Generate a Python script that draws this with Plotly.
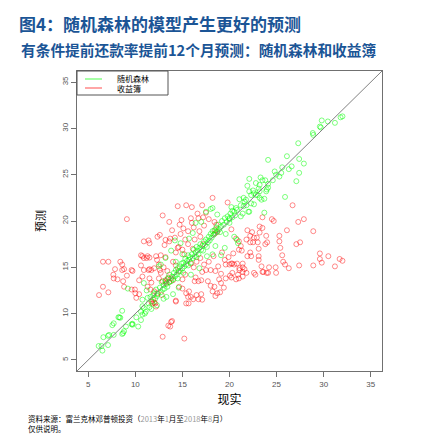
import plotly.graph_objects as go

# --- data read off the chart: (actual, predicted) ---
# random forest (green)
rf_actual = [
    6.1, 6.5, 7.1, 6.4, 6.6, 7.1, 7.7, 7.2, 8.7, 8.6, 8.8, 9.0, 9.6, 9.7, 10.3, 7.7, 7.55, 8.2, 8.4, 8.3,
    8.6, 9.7, 10.1, 10.6, 10.75, 10.6, 11.1, 10.75, 10.9, 11.4, 11.5, 11.3, 10.75, 11.6, 11.2, 12.0, 13.3, 9.2, 10.9, 12.5,
    11.8, 11.9, 12.1, 12.2, 12.4, 12.3, 12.6, 12.7, 12.8, 12.9, 13.0, 13.1, 13.2, 13.3, 13.4, 13.5, 13.6, 13.6, 13.8, 13.9,
    14.0, 14.1, 14.2, 14.3, 14.4, 14.5, 14.5, 14.6, 14.7, 14.8, 14.9, 15.0, 15.1, 15.1, 15.2, 15.3, 15.4, 15.5, 15.6, 15.6,
    15.7, 15.8, 15.9, 16.0, 16.1, 16.2, 16.3, 16.4, 16.5, 16.5, 16.6, 16.7, 16.8, 16.9, 17.0, 17.1, 17.2, 17.3, 17.4, 17.5,
    17.6, 17.7, 17.8, 17.9, 18.0, 18.1, 18.2, 18.3, 18.4, 18.5, 18.6, 18.7, 18.8, 18.9, 19.0, 19.1, 19.2, 19.4, 19.5, 19.7,
    19.8, 20.0, 20.1, 20.3, 20.5, 20.6, 20.8,
    18.0, 18.7, 17.5, 18.2, 16.4, 17.0, 16.1, 15.7, 14.8, 14.2, 13.8, 13.2, 12.7, 19.1, 18.2, 19.5, 20.5, 20.9, 20.8, 19.6,
    16.8, 15.9, 14.6, 14.0, 13.0, 12.3, 11.7, 11.0, 17.6, 18.5, 20.0, 20.0, 15.0, 14.3,
    20.2, 20.3, 20.7, 21.05, 21.2, 21.2, 21.4, 21.6, 21.8, 22.1, 22.1, 22.6, 23.0, 23.4, 23.7, 23.9, 21.5, 21.75, 22.3, 22.6,
    21.5, 22.0, 22.3, 22.8, 23.2, 23.7, 25.9, 22.5, 23.1, 23.2, 24.1, 23.96, 21.9, 23.2, 23.8, 22.8, 22.1, 23.3, 23.5, 24.1,
    24.6, 27.1, 27.4, 24.95, 25.3, 25.5, 24.8, 25.6, 26.3, 26.6, 27.9, 27.4, 24.1, 26.1, 27.3, 28.85, 28.9, 29.6, 29.7, 29.8,
    30.45, 31.2, 31.8, 32.0,
]
rf_pred = [
    6.5, 6.0, 6.6, 6.5, 7.45, 7.6, 7.7, 7.7, 7.9, 7.8, 8.1, 8.6, 8.85, 8.8, 8.6, 8.95, 8.75, 9.6, 9.55, 9.6,
    10.3, 8.9, 9.6, 9.3, 9.9, 10.2, 10.2, 10.8, 10.6, 11.1, 10.7, 11.7, 11.5, 11.8, 12.5, 12.2, 11.8, 12.7, 13.3, 15.1,
    11.3, 12.0, 11.6, 12.6, 12.1, 11.9, 12.8, 12.3, 13.4, 12.6, 13.1, 12.7, 13.6, 13.2, 12.9, 13.8, 13.4, 14.2, 13.5, 14.0,
    13.7, 14.4, 14.0, 14.7, 14.2, 14.9, 13.8, 14.5, 15.1, 14.6, 15.4, 14.9, 15.5, 14.4, 15.1, 15.9, 15.3, 15.7, 15.2, 16.3,
    15.8, 16.1, 15.5, 16.4, 16.0, 16.9, 16.2, 16.6, 16.1, 17.2, 16.8, 16.4, 17.1, 17.5, 16.9, 17.3, 16.8, 17.8, 17.4, 18.0,
    17.2, 17.7, 18.3, 17.9, 18.6, 18.2, 18.9, 18.5, 19.0, 18.7, 19.3, 18.9, 19.6, 19.1, 18.8, 19.4, 20.0, 19.6, 20.3, 19.9,
    20.5, 20.2, 20.8, 20.4, 21.0, 20.6, 21.2,
    21.3, 20.7, 21.0, 21.4, 19.8, 19.9, 18.7, 18.1, 17.6, 17.9, 16.8, 16.0, 15.3, 16.3, 16.4, 17.1, 18.3, 17.6, 17.96, 18.6,
    14.9, 14.2, 12.8, 12.1, 11.6, 10.9, 10.5, 10.0, 16.2, 17.3, 20.3, 19.8, 16.4, 15.6,
    21.5, 21.1, 21.4, 22.35, 21.7, 20.5, 20.8, 22.1, 21.7, 21.0, 23.2, 23.0, 22.8, 22.3, 20.9, 23.2, 22.5, 22.3, 21.9, 21.8,
    21.6, 21.0, 22.8, 22.8, 22.5, 22.4, 22.6, 23.3, 23.5, 23.2, 23.6, 23.4, 23.8, 23.9, 24.4, 24.1, 24.55, 24.7, 24.4, 24.0,
    24.4, 24.3, 25.2, 25.0, 24.8, 25.2, 25.35, 25.8, 25.6, 25.9, 26.2, 26.7, 26.6, 27.0, 28.4, 29.5, 29.3, 30.2, 30.1, 30.86,
    30.75, 30.6, 31.2, 31.3,
]

# yield book (red)
yb_actual = [
    6.14, 6.56, 6.56, 7.13, 7.13, 7.66, 7.7, 7.84, 8.1, 8.4, 8.6, 8.6, 8.8, 8.7, 8.8, 9.1, 9.1, 9.6, 9.6, 9.95,
    10.0, 10.4, 10.6, 10.75, 10.9, 10.1, 10.4, 11.2, 11.5, 11.4, 11.4, 11.7, 11.5, 11.7, 11.8, 12.0, 12.2, 12.3, 12.35, 12.6,
    12.9, 12.5, 12.6, 12.7, 13.2, 13.6, 13.7, 13.9, 13.5, 13.7, 13.9, 13.8, 12.9, 15.2, 14.5, 15.4, 14.9, 13.2,
    13.2, 13.4, 13.6, 13.8, 13.5, 14.0, 13.3, 11.7, 11.9, 12.1,
    14.0, 14.3, 14.6, 14.3, 14.6, 15.0, 15.3, 15.6, 14.2, 14.8, 15.1, 15.9, 16.0, 16.6, 16.7, 17.1, 17.5, 18.2, 19.8, 18.4,
    18.6, 18.5, 18.7, 18.4, 16.3, 16.9, 17.2, 16.1, 15.9, 16.2, 16.5, 15.3, 15.0, 14.65, 15.0, 14.3, 15.65, 15.4, 15.6, 15.9,
    16.15, 16.7, 17.1, 16.5, 17.0, 18.2, 18.7, 18.0, 18.4, 19.1, 18.9, 17.7, 17.0, 16.7, 16.3, 16.4, 17.1, 17.5, 18.0, 18.5,
    19.6, 20.0, 20.3, 21.05, 21.4, 21.8, 21.4, 22.6, 23.5, 23.95, 17.3, 17.8, 16.9, 18.3, 19.2, 19.9, 20.4, 19.5, 18.8,
    26.7, 24.5, 24.7, 23.5, 27.3, 27.9, 28.9, 26.1, 23.2, 23.5, 21.9, 22.4, 23.2, 20.2, 22.2, 22.6, 22.9, 23.9, 25.3, 20.7,
    21.0, 21.8, 22.2, 22.5, 23.0, 24.0, 23.8, 25.3, 27.5, 27.1, 21.2, 25.4, 23.1, 21.0, 21.3, 22.2, 21.9, 22.3, 29.6, 30.5,
    23.1, 25.6, 29.6, 29.8, 31.7, 32.0, 31.2, 28.9, 27.4, 25.7, 25.9, 26.3, 24.9, 24.2, 23.4, 24.95, 24.1, 23.6, 22.75, 23.1,
    20.2, 20.5, 20.8, 21.4, 21.4, 21.05, 21.6, 20.3, 20.9, 21.0, 20.2, 20.7, 20.05, 19.6, 19.1, 19.4, 19.0, 18.5,
    15.6, 16.2, 16.8, 17.3, 17.8, 17.2, 14.7, 13.6, 16.0,
    9.7, 10.9, 11.5, 10.75, 12.5, 12.9, 11.3, 11.6, 12.0, 12.35, 14.3, 15.7, 15.4, 10.6, 11.3, 12.2, 12.7, 11.5, 10.9, 13.1,
    14.5, 15.2, 12.0, 13.0, 13.4, 12.8,
]
yb_pred = [
    12.0, 12.9, 15.6, 15.6, 12.3, 14.2, 13.8, 14.8, 13.7, 15.6, 15.3, 14.7, 14.8, 13.5, 12.9, 14.1, 20.2, 14.7, 12.6, 12.6,
    12.2, 13.6, 15.2, 16.2, 16.0, 11.7, 12.1, 16.0, 16.05, 17.9, 14.7, 14.7, 13.8, 13.35, 11.1, 11.2, 10.76, 15.8, 18.3, 18.5,
    20.6, 15.3, 14.7, 14.4, 17.96, 17.8, 18.1, 19.0, 8.7, 8.6, 9.2, 9.1, 7.5, 7.3, 21.6, 21.7, 20.1, 16.1,
    13.5, 13.7, 13.4, 13.8, 13.9, 13.6, 13.3, 11.3, 11.5, 11.1,
    15.6, 15.2, 14.6, 16.6, 17.2, 16.9, 18.0, 17.5, 18.2, 18.6, 19.2, 20.3, 19.8, 20.8, 20.3, 21.7, 20.9, 22.5, 22.0, 19.9,
    19.6, 19.0, 18.8, 18.6, 18.0, 18.3, 17.5, 17.0, 15.4, 15.0, 15.6, 14.2, 13.7, 12.9, 12.7, 11.4, 11.1, 12.2, 11.8, 11.8,
    11.55, 11.55, 11.5, 12.0, 12.1, 12.4, 12.2, 13.0, 12.9, 13.3, 13.7, 13.5, 13.6, 13.5, 13.5, 13.9, 14.5, 14.7, 14.7, 14.6,
    15.3, 15.3, 15.4, 14.7, 14.5, 14.4, 14.0, 14.4, 14.5, 14.4, 15.3, 15.6, 16.0, 16.2, 16.6, 16.1, 16.5, 15.8, 15.1,
    21.7, 20.2, 20.0, 20.4, 19.9, 20.2, 18.9, 19.0, 19.4, 19.25, 19.0, 18.8, 18.75, 19.1, 18.4, 18.2, 18.2, 18.4, 18.4, 18.1,
    17.8, 18.0, 17.7, 17.7, 17.7, 17.7, 17.5, 17.8, 17.7, 17.5, 17.3, 17.1, 17.0, 16.9, 16.8, 16.6, 16.2, 16.2, 16.5, 16.2,
    16.2, 16.3, 15.9, 15.5, 15.9, 15.7, 15.1, 15.2, 15.2, 15.6, 15.3, 14.9, 15.0, 15.0, 15.1, 14.4, 14.4, 14.5, 14.2, 15.8,
    15.4, 15.3, 15.4, 15.4, 15.0, 14.9, 14.8, 14.4, 14.2, 13.8, 13.9, 13.7, 14.1, 13.8, 14.3, 12.8, 12.3, 11.9,
    18.9, 19.3, 18.9, 19.5, 20.2, 20.4, 19.6, 19.9, 21.5,
    14.6, 14.7, 14.8, 14.0, 13.8, 13.5, 12.9, 12.6, 12.4, 12.2, 11.3, 12.4, 11.1, 16.3, 16.2, 16.2, 16.3, 17.6, 17.8, 17.4,
    17.1, 16.4, 14.9, 15.0, 14.6, 12.0,
]

AXIS_MIN, AXIS_MAX = 3.8, 36.2
TICKS = [5, 10, 15, 20, 25, 30, 35]
LEGEND_NAMES = ["随机森林", "收益簿"]

TITLE = "图4：随机森林的模型产生更好的预测"
SUBTITLE = "有条件提前还款率提前12个月预测：随机森林和收益簿"
GREY = "<span style='color:#999'>{}</span>"
SOURCE = ("资料来源：富兰克林邓普顿投资（" + GREY.format("2013") + "年" + GREY.format("1") + "月至"
          + GREY.format("2018") + "年" + GREY.format("8") + "月）<br>仅供说明。")

CJK = "Noto Sans CJK SC"
BLUE = "#1B5596"
GREEN = "rgba(0,255,0,0.5)"
RED = "rgba(255,0,0,0.45)"
LEG_COLORS = ["rgba(0,255,0,0.35)", "rgba(255,0,0,0.35)"]

# page has an 8px body margin, so the figure is 432 and everything sits 8px up/left
W = H = 432
ML, MR, MT, MB = 69, 58, 63, 69
PW, PH = W - ML - MR, H - MT - MB


def px(fx):
    return (fx - ML) / PW


def py(fy):
    return (H - MB - fy) / PH


fig = go.Figure()

# scatter points (red first, green on top)
fig.add_trace(go.Scatter(
    x=yb_actual, y=yb_pred, mode="markers", showlegend=False, name="收益簿",
    marker=dict(symbol="circle-open", size=5, color=RED, line=dict(width=1, color=RED)),
))
fig.add_trace(go.Scatter(
    x=rf_actual, y=rf_pred, mode="markers", showlegend=False, name="随机森林",
    marker=dict(symbol="circle-open", size=5, color=GREEN, line=dict(width=1, color=GREEN)),
))

# y = x reference line
fig.add_shape(type="line", xref="x", yref="y",
              x0=AXIS_MIN, y0=AXIS_MIN, x1=AXIS_MAX, y1=AXIS_MAX,
              line=dict(color="#808080", width=1))

# --- R style legend box in the top-left corner ---
fig.add_shape(type="rect", xref="paper", yref="paper",
              x0=0, x1=px(ML + 91), y0=py(MT + 24), y1=1,
              line=dict(color="#555", width=1), fillcolor="white")
for i, (name, col) in enumerate(zip(LEGEND_NAMES, LEG_COLORS)):
    yy = py(MT + 8 + 9 * i)
    fig.add_shape(type="line", xref="paper", yref="paper",
                  x0=px(ML + 8), x1=px(ML + 25), y0=yy, y1=yy,
                  line=dict(color=col, width=2))
    fig.add_annotation(text=name, xref="paper", yref="paper",
                       x=px(ML + 38), y=yy, xanchor="left", yanchor="middle", showarrow=False,
                       font=dict(family=CJK, size=8, color="#000"))

# --- text around the plot ---
fig.add_annotation(text=f"<b>{TITLE}</b>", xref="paper", yref="paper",
                   x=px(9), y=py(0.5), xanchor="left", yanchor="top", showarrow=False,
                   font=dict(family=CJK, size=17, color=BLUE))
fig.add_annotation(text=f"<b>{SUBTITLE}</b>", xref="paper", yref="paper",
                   x=px(11), y=py(41), xanchor="left", yanchor="middle", showarrow=False,
                   font=dict(family=CJK, size=14.7, color=BLUE))
fig.add_annotation(text=SOURCE, xref="paper", yref="paper",
                   x=px(18), y=py(403), xanchor="left", yanchor="top", showarrow=False,
                   align="left", font=dict(family=CJK, size=7.5, color="#000"))

axis_common = dict(
    range=[AXIS_MIN, AXIS_MAX], tickvals=TICKS,
    showgrid=False, zeroline=False,
    showline=True, mirror=True, linecolor="#707070", linewidth=1,
    ticks="outside", ticklen=5, tickcolor="#707070", tickwidth=1,
    tickfont=dict(family="Liberation Sans", size=8, color="#555"),
)

fig.update_layout(
    width=W, height=H,
    margin=dict(l=ML, r=MR, t=MT, b=MB, autoexpand=False),
    plot_bgcolor="white", paper_bgcolor="white",
    xaxis=dict(**axis_common,
               title=dict(text="现实", font=dict(family=CJK, size=12, color="#000"), standoff=8)),
    yaxis=dict(**axis_common, tickangle=-90,
               title=dict(text="预测", font=dict(family=CJK, size=11, color="#000"), standoff=12)),
    showlegend=False,
)

fig.write_html("out.html")
